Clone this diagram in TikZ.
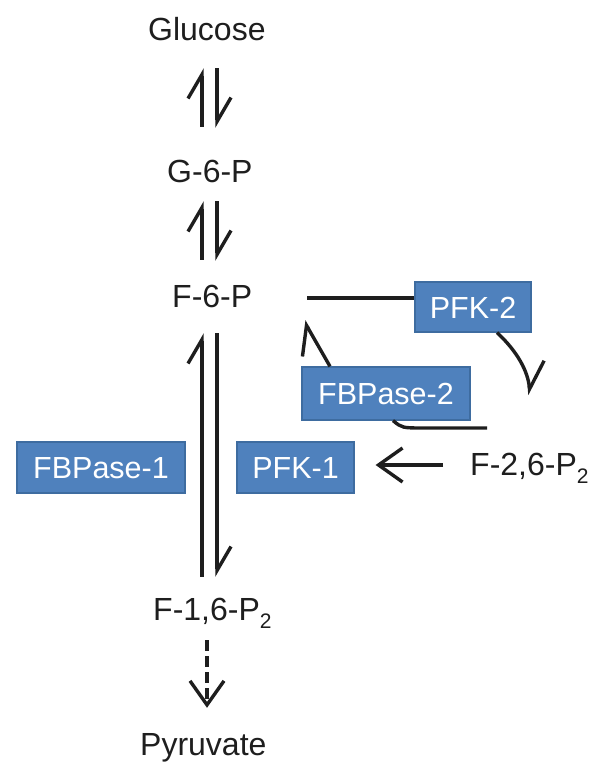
\documentclass[tikz,border=0pt]{standalone}
\usepackage{fontspec}
\setmainfont{Liberation Sans}
\usetikzlibrary{arrows.meta}
\definecolor{boxblue}{RGB}{79,129,189}
\definecolor{boxedge}{RGB}{62,108,160}
\definecolor{ink}{RGB}{30,30,30}
% lowered subscript used in the metabolite names
\newcommand\lowtwo{\raisebox{-8pt}{\fontsize{21}{21}\selectfont 2}}

\begin{document}
\begin{tikzpicture}[x=1pt,y=-1pt,
  metab/.style={inner sep=0pt, text height=23pt, text depth=0pt, anchor=base west,
    text=ink, font=\fontsize{32}{38}\selectfont},
  enzyme/.style={fill=boxblue, draw=boxedge, line width=1.2pt, text=white,
    font=\fontsize{30.5}{36}\selectfont, inner sep=0pt, text height=22pt, text depth=0pt},
  flow/.style={draw=ink, line width=3.4pt},
  harp/.style={flow, -{Straight Barb[harpoon, length=24pt, width=28pt]}},
  fullhead/.style={flow, -{Straight Barb[length=24pt, width=34pt]}}
]
\useasboundingbox (0,0) rectangle (595,763);

% metabolites
\node[metab] (glu) at (148,40)  {Glucose};
\node[metab] (g6p) at (167,182) {G-6-P};
\node[metab] (f6p) at (172,307) {F-6-P};
\node[metab] (f16) at (153,620) {F-1,6-P\lowtwo};
\node[metab] (pyr) at (140,755) {Pyruvate};
\node[metab] (f26) at (470,475) {F-2,6-P\lowtwo};

% enzymes
\node[enzyme, minimum width=116pt, minimum height=50pt] (pfk2) at (473,307)   {PFK-2};
\node[enzyme, minimum width=168pt, minimum height=53pt] (fb2)  at (386,393.5) {FBPase-2};
\node[enzyme, minimum width=117pt, minimum height=51pt] (pfk1) at (295.5,467.5) {PFK-1};
\node[enzyme, minimum width=168pt, minimum height=51pt] (fbp1) at (101,467.5) {FBPase-1};

% columns of the reversible steps
\coordinate (cl) at (202,0);
\coordinate (cr) at (217,0);
\coordinate (cd) at (207,0);

% Glucose <-> G-6-P
\draw[harp, shorten <=32pt, shorten >=28pt] (cl |- g6p.north) -- (cl |- glu.south);
\draw[harp, shorten <=28pt, shorten >=31pt] (cr |- glu.south) -- (cr |- g6p.north);
% G-6-P <-> F-6-P
\draw[harp, shorten <=24pt, shorten >=19pt] (cl |- f6p.north) -- (cl |- g6p.south);
\draw[harp, shorten <=19pt, shorten >=23pt] (cr |- g6p.south) -- (cr |- f6p.north);
% F-6-P <-> F-1,6-P2
\draw[harp, shorten <=20pt, shorten >=26pt] (cl |- f16.north) -- (cl |- f6p.south);
\draw[harp, shorten <=26pt, shorten >=20pt] (cr |- f6p.south) -- (cr |- f16.north);
% F-1,6-P2 ... Pyruvate
\draw[fullhead, dash pattern=on 11pt off 5pt, shorten <=20pt, shorten >=24pt]
  (cd |- f16.south) -- (cd |- pyr.north);

% F-2,6-P2 activates PFK-1
\draw[fullhead, shorten <=27pt, shorten >=21pt] ([yshift=-1.5pt]f26.west) -- ([yshift=-1.5pt]f26.west -| pfk1.east);

% PFK-2 / FBPase-2 cycle
\coordinate (k2tip)  at (530,395);
\coordinate (fb2tip) at (304,321);
\coordinate (f26end) at (487,428);
\draw[flow] ([xshift=55pt, yshift=-2.5pt]f6p.east) -- ([yshift=-2.5pt]f6p.east -| pfk2.west);
\draw[flow, -{Straight Barb[harpoon, length=27pt, width=34pt]}]
  ([xshift=24pt]pfk2.south) .. controls (518,352) and (528,372) .. (k2tip);
\draw[flow, -{Straight Barb[harpoon, length=25pt, width=38pt]}]
  ([xshift=-56pt]fb2.north) -- (fb2tip);
\draw[flow] ([xshift=7pt]fb2.south) .. controls (402,428) .. (425,428) -- (f26end);
\end{tikzpicture}
\end{document}
